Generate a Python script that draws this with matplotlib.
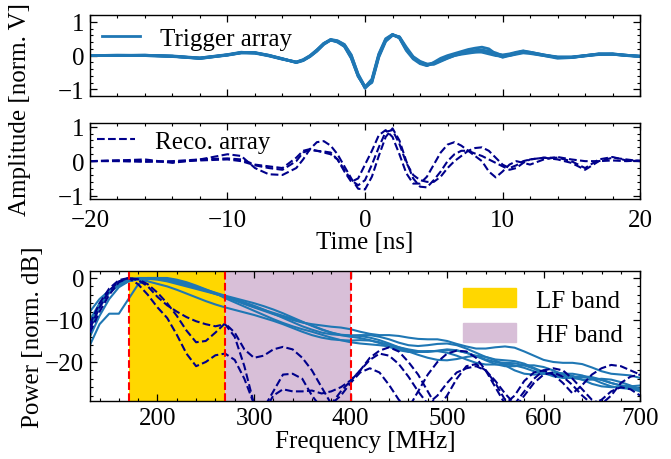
import numpy as np
import matplotlib
matplotlib.use("Agg")
import matplotlib.pyplot as plt
from matplotlib.ticker import AutoMinorLocator, MultipleLocator
from matplotlib.patches import Patch

plt.rcParams['font.family'] = ['Liberation Serif', 'DejaVu Serif']
plt.rcParams['font.size'] = 18
plt.rcParams['mathtext.fontset'] = 'stix'

# ---------------- data ----------------
t_ns = [-20, -18, -16, -14, -12, -10, -9, -8, -7, -6, -5, -4.5, -4, -3.5, -3, -2.5, -2,
        -1.5, -1, -0.5, 0, 0.5, 1, 1.5, 2, 2.5, 3, 3.5, 4, 4.5, 5, 5.5, 6, 6.5, 7, 7.5,
        8, 8.5, 9, 9.5, 10, 10.5, 11, 11.5, 12, 13, 14, 15, 16, 17, 18, 19, 20]

trig_1 = [0, 0, 0.01, -0.02, -0.08, 0.02, 0.09, 0.08, 0.0, -0.1, -0.2, -0.14, -0.02, 0.15,
          0.35, 0.47, 0.42, 0.3, -0.05, -0.6, -0.95, -0.75, 0.0, 0.45, 0.62, 0.55, 0.2,
          -0.07, -0.2, -0.28, -0.22, -0.12, -0.04, 0.03, 0.08, 0.12, 0.12, 0.1, 0.05, 0.0,
          -0.02, 0.03, 0.08, 0.12, 0.08, 0.0, -0.05, -0.04, 0.0, 0.05, 0.04, 0.0, -0.02]
trig_2 = [0, 0.01, 0.0, -0.03, -0.07, 0.03, 0.1, 0.07, -0.01, -0.11, -0.19, -0.12, 0.0, 0.17,
          0.36, 0.46, 0.4, 0.27, -0.08, -0.62, -0.93, -0.7, 0.05, 0.5, 0.63, 0.52, 0.15,
          -0.1, -0.24, -0.3, -0.2, -0.08, 0.0, 0.06, 0.12, 0.18, 0.22, 0.25, 0.2, 0.05,
          -0.05, 0.0, 0.06, 0.1, 0.1, 0.02, -0.04, -0.05, -0.01, 0.04, 0.05, 0.01, -0.02]
trig_3 = [0, 0, 0.01, -0.02, -0.08, 0.01, 0.08, 0.08, 0.01, -0.09, -0.21, -0.15, -0.03, 0.13,
          0.33, 0.46, 0.43, 0.32, 0.0, -0.55, -0.92, -0.8, -0.05, 0.42, 0.6, 0.56, 0.25,
          -0.03, -0.17, -0.25, -0.26, -0.17, -0.08, 0.0, 0.04, 0.07, 0.1, 0.12, 0.1, 0.05,
          0.02, 0.05, 0.1, 0.14, 0.1, 0.02, -0.06, -0.06, 0.0, 0.05, 0.05, 0.01, -0.03]
trig_4 = [0, 0, 0.0, -0.02, -0.09, 0.02, 0.09, 0.09, 0.01, -0.1, -0.2, -0.13, -0.01, 0.16,
          0.36, 0.48, 0.44, 0.33, 0.02, -0.57, -0.97, -0.77, -0.02, 0.46, 0.62, 0.53, 0.18,
          -0.05, -0.22, -0.29, -0.24, -0.14, -0.05, 0.02, 0.07, 0.1, 0.11, 0.12, 0.13, 0.08,
          0.0, 0.0, 0.04, 0.08, 0.06, 0.0, -0.08, -0.06, -0.01, 0.03, 0.04, 0.01, -0.02]
trig_5 = [0, 0.01, 0.01, -0.01, -0.07, 0.02, 0.08, 0.08, 0.0, -0.1, -0.19, -0.14, -0.02, 0.14,
          0.34, 0.46, 0.41, 0.28, -0.06, -0.6, -0.94, -0.73, 0.02, 0.47, 0.61, 0.54, 0.2,
          -0.06, -0.19, -0.26, -0.23, -0.15, -0.07, 0.0, 0.06, 0.11, 0.15, 0.17, 0.12, 0.02,
          -0.04, 0.02, 0.08, 0.13, 0.09, 0.01, -0.05, -0.05, 0.0, 0.04, 0.04, 0.0, -0.02]

reco_1 = [0, 0.02, 0.05, -0.05, 0.05, 0.2, 0.15, -0.2, -0.38, -0.4, -0.2, 0.05, 0.35, 0.55,
          0.58, 0.45, 0.2, -0.15, -0.5, -0.8, -0.82, -0.45, 0.15, 0.7, 0.95, 0.6, 0.0,
          -0.5, -0.74, -0.76, -0.55, -0.3, 0.0, 0.2, 0.3, 0.3, 0.22, 0.15, 0.05, -0.05,
          -0.15, -0.25, -0.2, -0.05, 0.05, 0.1, 0.1, 0.0, -0.2, 0.05, 0.12, 0.02, 0.0]
reco_2 = [0, 0, -0.02, 0, 0.05, 0.08, 0.05, -0.1, -0.15, -0.2, 0.1, 0.3, 0.35, 0.3,
          0.25, 0.2, 0.05, -0.3, -0.6, -0.5, -0.1, 0.3, 0.75, 0.9, 0.7, 0.2, -0.35,
          -0.65, -0.65, -0.45, -0.1, 0.25, 0.48, 0.55, 0.45, 0.3, 0.15, 0.0, -0.3, -0.47,
          -0.3, -0.1, 0.0, -0.05, -0.1, 0.05, 0.12, 0.05, 0.0, 0.0, 0.02, 0.0, 0.02]
reco_3 = [0, 0.02, 0.0, -0.02, 0.02, 0.05, 0.0, -0.12, -0.2, -0.25, 0.0, 0.25, 0.32, 0.3,
          0.28, 0.25, 0.05, -0.25, -0.55, -0.7, -0.55, -0.1, 0.4, 0.85, 0.9, 0.5, -0.05,
          -0.4, -0.55, -0.6, -0.6, -0.45, -0.2, 0.0, 0.15, 0.3, 0.38, 0.4, 0.3, 0.1,
          -0.1, -0.2, -0.12, 0.0, 0.05, 0.1, 0.05, -0.05, -0.25, 0.0, 0.1, 0.05, 0.0]

freq_mhz = list(range(130, 701, 10))

spec_trig_1 = [-8, -5, -3, -1.5, -0.5, 0, 0, 0, -0.3, -0.8, -1.5, -2.3, -3, -3.8, -4.5,
               -5.3, -6.2, -7, -7.8, -8.6, -9.3, -10, -10.6, -11, -11.3, -11.6, -11.8, -12.2,
               -12.8, -13.3, -13.6, -13.6, -13.8, -14.2, -14.5, -14.6, -14.6, -15, -15.7,
               -16.3, -16.8, -16.8, -16.5, -16.3, -16.6, -17.5, -18.5, -19.5, -20, -20.2,
               -20.2, -20.5, -21.3, -22.2, -22.8, -23, -23.2, -23.8]
spec_trig_2 = [-16, -11, -8.5, -8.5, -5, -1.5, -0.3, 0, 0, -0.4, -1, -1.8, -2.7, -3.6, -4.8,
               -5.8, -6.8, -7.8, -8.8, -9.8, -10.7, -11.5, -12.2, -12.8, -13.5, -14.2, -14.8,
               -15.3, -15.6, -15.8, -16, -16.3, -16.8, -17.5, -18.3, -19, -19.5, -19.6, -19.3,
               -18.8, -18.5, -18.8, -19.6, -20.8, -22, -22.8, -23, -22.8, -22.5, -22.7,
               -23.3, -24.2, -25.2, -25.8, -26, -26, -26.3, -27]
spec_trig_3 = [-12, -7, -3.5, -1.2, -0.3, -0.1, -0.2, -0.4, -0.8, -1.4, -2, -2.6, -3.2, -3.8,
               -4.4, -5, -5.8, -6.6, -7.5, -8.5, -9.5, -10.5, -11.5, -12.3, -13, -13.4, -13.6,
               -13.7, -13.8, -14.2, -14.8, -15.6, -16.5, -17.2, -17.6, -17.6, -17.3, -17,
               -17.2, -17.8, -18.6, -19.4, -20, -20.2, -20.3, -20.8, -21.6, -22.6, -23.4,
               -23.8, -23.8, -23.6, -23.8, -24.3, -25, -25.6, -26, -26.3]
spec_trig_4 = [-10, -6, -3, -1, 0, -0.3, -0.8, -1.4, -2, -2.8, -3.7, -4.6, -5.5, -6.3, -7,
               -7.6, -8.2, -8.8, -9.5, -10.2, -11, -11.9, -12.8, -13.6, -14.2, -14.6, -14.8,
               -14.9, -14.8, -14.9, -15.3, -15.9, -16.5, -17, -17.4, -17.5, -17.4, -17.2,
               -17.3, -17.8, -18.6, -19.6, -20.5, -21, -21, -20.8, -20.8, -21.2, -22, -23,
               -23.8, -24.2, -24.2, -24, -24.2, -24.8, -25.6, -26.5]
spec_trig_5 = [-14, -9, -5, -2.2, -0.8, -0.2, 0, -0.2, -0.6, -1.1, -1.7, -2.3, -3, -3.7, -4.5,
               -5.3, -6.1, -6.9, -7.6, -8.3, -9, -9.7, -10.5, -11.3, -12.2, -13, -13.6, -14,
               -14.3, -14.8, -15.5, -16.4, -17.2, -17.6, -17.6, -17.4, -17.4, -17.8, -18.5,
               -19.4, -20.2, -20.6, -20.6, -20.5, -20.8, -21.4, -22.2, -22.8, -23, -22.8,
               -22.8, -23.2, -24, -25, -25.8, -26.2, -26.4, -26.5]
spec_trig_6 = [-11, -6.5, -3.5, -1.8, -0.8, -0.3, 0, 0, -0.2, -0.6, -1.2, -2, -2.8, -3.5,
               -4.2, -4.8, -5.4, -6, -6.7, -7.5, -8.4, -9.4, -10.4, -11.4, -12.3, -13, -13.5,
               -13.7, -13.6, -13.6, -14, -14.6, -15.4, -16, -16.2, -16, -15.7, -15.6, -16,
               -16.8, -17.8, -18.8, -19.4, -19.6, -19.8, -20.4, -21.4, -22.4, -23.2, -23.6,
               -23.6, -23.4, -23.6, -24.2, -25, -25.6, -25.8, -25.6]

spec_reco_1 = [-13, -8, -4, -1, 0, -1.5, -4, -7, -9.5, -13.5, -18, -21, -20, -18.4, -18,
               -19.5, -24, -30, -31, -27, -23, -22.8, -24, -28, -31, -30, -27, -24.5, -22,
               -19, -17.3, -16.5, -17.5, -20, -23, -27, -31, -28, -24, -21, -20.5, -22, -25,
               -29, -31, -28, -25, -23, -22.5, -23.5, -25.5, -28, -30, -29, -27, -26, -26.5,
               -28]
spec_reco_2 = [-11, -6, -2.5, -0.5, 0, -0.3, -1.5, -3.5, -6, -9, -12.5, -15.3, -15, -13,
               -10.8, -13, -17, -19, -18.5, -17, -16.4, -17, -19, -22, -26, -30, -28, -25,
               -22.5, -21.5, -22.5, -25.5, -29, -31, -27, -23, -20, -18, -17.3, -17.5, -19,
               -22, -26, -30, -28, -24.5, -22.5, -22, -23, -25, -27.5, -25.5, -23, -21.5,
               -20.7, -21, -22, -23]
spec_reco_3 = [-12, -7, -3, -0.8, 0, -0.5, -2, -4.5, -6.5, -8, -9.3, -10.3, -11, -11.5, -11,
               -14, -21, -30, -32, -28, -26.5, -27, -27, -26.8, -27.5, -27, -26, -24.4, -22,
               -19.5, -18, -18.5, -20.5, -23.5, -27, -30, -28, -25, -22.5, -21.5, -21, -22,
               -24.5, -27.5, -30, -27, -24, -22, -21.5, -22, -24, -26.5, -29, -30, -28, -25,
               -23.5, -23]

lf_band = [170, 270]
hf_band = [270, 400]

trig_traces = [trig_1, trig_2, trig_3, trig_4, trig_5]
reco_traces = [reco_1, reco_2, reco_3]
spec_trig = [spec_trig_1, spec_trig_2, spec_trig_3, spec_trig_4, spec_trig_5, spec_trig_6]
spec_reco = [spec_reco_1, spec_reco_2, spec_reco_3]

c_trig = '#1f77b4'
c_reco = '#00008b'

# ---------------- figure ----------------
fig = plt.figure(figsize=(6.71, 4.60), dpi=100)
L, W = 0.134, 0.820
ax1 = fig.add_axes([L, 0.789, W, 0.176])
ax2 = fig.add_axes([L, 0.565, W, 0.165])
ax3 = fig.add_axes([L, 0.126, W, 0.283])


def style(ax):
    ax.tick_params(which='both', direction='in', top=True, right=True)
    ax.tick_params(which='major', length=5, width=0.9, pad=4)
    ax.tick_params(which='minor', length=2.5, width=0.8)
    ax.xaxis.set_minor_locator(AutoMinorLocator())
    ax.yaxis.set_minor_locator(AutoMinorLocator())
    for s in ax.spines.values():
        s.set_linewidth(1.0)


for i, tr in enumerate(trig_traces):
    ax1.plot(t_ns, tr, color=c_trig, lw=2.0, label='Trigger array' if i == 0 else None)
ax1.set_xlim(-20, 20)
ax1.set_ylim(-1.2, 1.2)
ax1.xaxis.set_major_locator(MultipleLocator(10))
ax1.yaxis.set_major_locator(MultipleLocator(1))
ax1.set_xticklabels([])
style(ax1)
ax1.legend(loc='upper left', frameon=False, handlelength=1.5, borderaxespad=0.3,
           borderpad=0.2, handletextpad=0.8)

for i, tr in enumerate(reco_traces):
    ax2.plot(t_ns, tr, color=c_reco, lw=1.5, ls='--', label='Reco. array' if i == 0 else None)
ax2.set_xlim(-20, 20)
ax2.set_ylim(-1.1, 1.1)
ax2.xaxis.set_major_locator(MultipleLocator(10))
ax2.yaxis.set_major_locator(MultipleLocator(1))
style(ax2)
ax2.tick_params(axis='x', which='major', pad=7)
ax2.set_xlabel('Time [ns]', labelpad=0)
ax2.legend(loc='upper left', frameon=False, handlelength=1.5, borderaxespad=0.15,
           borderpad=0.15, handletextpad=0.8)

ax3.axvspan(lf_band[0], lf_band[1], color='gold', lw=0, zorder=0)
ax3.axvspan(hf_band[0], hf_band[1], color='thistle', lw=0, zorder=0)
for tr in spec_trig:
    ax3.plot(freq_mhz, tr, color=c_trig, lw=1.5, zorder=2)
for tr in spec_reco:
    ax3.plot(freq_mhz, tr, color=c_reco, lw=1.5, ls='--', zorder=3)
for fv in [lf_band[0], lf_band[1], hf_band[1]]:
    ax3.axvline(fv, color='red', ls='--', lw=1.5, zorder=4)
ax3.set_xlim(130, 700)
ax3.set_ylim(-29.3, 1.7)
ax3.xaxis.set_major_locator(MultipleLocator(100))
ax3.yaxis.set_major_locator(MultipleLocator(10))
style(ax3)
ax3.set_xlabel('Frequency [MHz]', labelpad=1)
ax3.set_ylabel('Power [norm. dB]', labelpad=1)
handles = [Patch(color='gold', label='LF band'), Patch(color='thistle', label='HF band')]
ax3.legend(handles=handles, loc='upper right', frameon=False, handlelength=2.1,
           handleheight=0.8, labelspacing=0.45, borderaxespad=0.3, handletextpad=0.8)

fig.text(0.03, 0.762, 'Amplitude [norm. V]', rotation=90, ha='center', va='center')

fig.savefig('out.png', dpi=100)
